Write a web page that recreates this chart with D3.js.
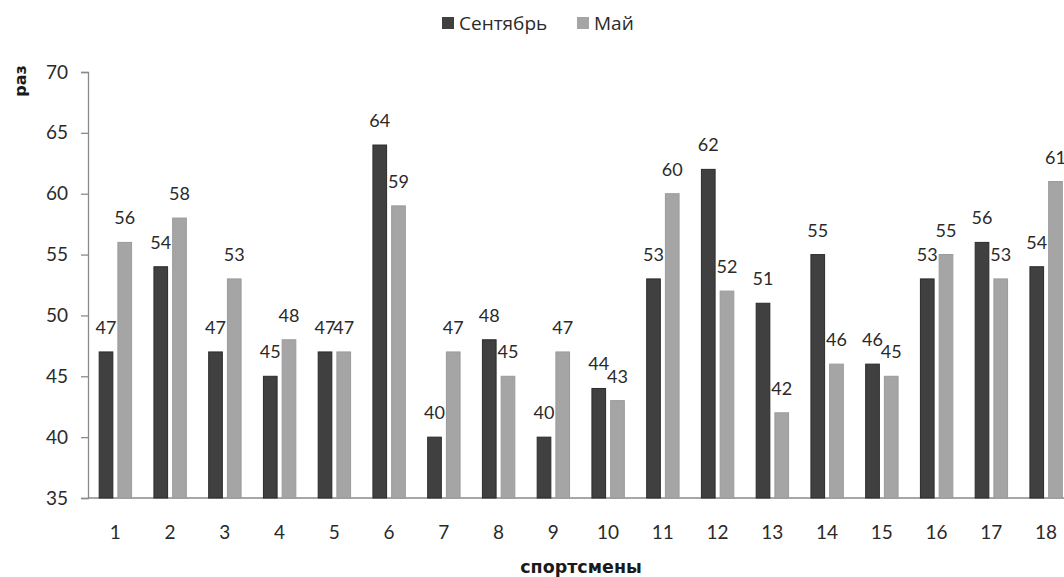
<!DOCTYPE html>
<html>
<head>
<meta charset="utf-8">
<script src="https://cdn.jsdelivr.net/npm/d3@7"></script>
<style>
  html, body { margin: 0; padding: 0; background: #fff; }
  svg { display: block; font-family: Lato, "Open Sans", sans-serif; }
</style>
</head>
<body>
<svg id="chart" width="1064" height="577"></svg>
<script>
// Athletes (спортсмены) and their results in two months
const athletes = ["1","2","3","4","5","6","7","8","9","10","11","12","13","14","15","16","17","18"];
const september = [47, 54, 47, 45, 47, 64, 40, 48, 40, 44, 53, 62, 51, 55, 46, 53, 56, 54];
const may       = [56, 58, 53, 48, 47, 59, 47, 45, 47, 43, 60, 52, 42, 46, 45, 55, 53, 61];
const seriesNames = ["Сентябрь", "Май"];
const yTicks = [35, 40, 45, 50, 55, 60, 65, 70];

const series = [
  { name: seriesNames[0], values: september, fill: "#404040", stroke: "#2b2b2b" },
  { name: seriesNames[1], values: may,       fill: "#a5a5a5", stroke: "#9a9a9a" }
];

const svg = d3.select("#chart");
const plotLeft = 88, plotTop = 72, plotBottom = 498;
const step = 54.75;

const x = d3.scaleBand().domain(athletes).range([plotLeft, plotLeft + step * athletes.length]);
const xSub = d3.scaleBand().domain(seriesNames).range([-16.2, 16.2]).paddingInner(0.27);
const y = d3.scaleLinear().domain([35, 70]).range([plotBottom, plotTop]);

const axisColor = "#8a8a8a";
const textColor = "#2a2a2a";
const titleFont = "'DejaVu Sans', Verdana, sans-serif";

// Baseline along the category axis
svg.append("line")
  .attr("x1", plotLeft).attr("x2", 1064)
  .attr("y1", y(35)).attr("y2", y(35))
  .attr("stroke", axisColor).attr("stroke-width", 1.3);

// Value axis
const yAxis = svg.append("g")
  .attr("transform", `translate(${plotLeft},0)`)
  .call(d3.axisLeft(y).tickValues(yTicks).tickSize(7).tickPadding(13).tickFormat(d3.format("d")));
yAxis.select(".domain").attr("stroke", axisColor).attr("stroke-width", 1.3);
yAxis.selectAll(".tick line").attr("stroke", axisColor).attr("stroke-width", 1.3);
yAxis.selectAll(".tick text")
  .attr("fill", textColor).style("font-size", "19px").style("font-family", "Lato, sans-serif");

// Category labels
svg.append("g").selectAll("text")
  .data(athletes)
  .join("text")
  .attr("x", d => x(d) + x.bandwidth() / 2)
  .attr("y", 531)
  .attr("text-anchor", "middle")
  .attr("dominant-baseline", "central")
  .attr("fill", textColor)
  .style("font-size", "19px")
  .text(d => d);

// Bars and value labels
series.forEach(s => {
  const g = svg.append("g");
  const rows = athletes.map((a, i) => ({ a, v: s.values[i] }));
  g.selectAll("rect")
    .data(rows)
    .join("rect")
    .attr("x", d => x(d.a) + x.bandwidth() / 2 + xSub(s.name))
    .attr("width", xSub.bandwidth())
    .attr("y", d => y(d.v))
    .attr("height", d => y(35) - y(d.v))
    .attr("fill", s.fill)
    .attr("stroke", s.stroke)
    .attr("stroke-width", 1);
  g.selectAll("text")
    .data(rows)
    .join("text")
    .attr("x", d => x(d.a) + x.bandwidth() / 2 + xSub(s.name) + xSub.bandwidth() / 2)
    .attr("y", d => y(d.v) - 18)
    .attr("text-anchor", "middle")
    .attr("fill", textColor)
    .style("font-size", "18px")
    .text(d => d.v);
});

// Axis titles
svg.append("text")
  .attr("transform", "translate(20,81) rotate(-90)")
  .attr("text-anchor", "middle")
  .attr("dominant-baseline", "central")
  .attr("fill", "#1a1a1a")
  .style("font-family", titleFont)
  .style("font-size", "16px").style("font-weight", "bold")
  .text("раз");

svg.append("text")
  .attr("x", 581).attr("y", 567)
  .attr("text-anchor", "middle")
  .attr("dominant-baseline", "central")
  .attr("fill", "#1a1a1a")
  .style("font-family", titleFont)
  .style("font-size", "17.5px").style("font-weight", "bold")
  .text("спортсмены");

// Legend
const legend = svg.append("g");
const legendItems = [
  { name: seriesNames[0], fill: series[0].fill, x: 442 },
  { name: seriesNames[1], fill: series[1].fill, x: 577 }
];
legendItems.forEach(it => {
  legend.append("rect")
    .attr("x", it.x).attr("y", 17).attr("width", 12).attr("height", 12)
    .attr("fill", it.fill);
  legend.append("text")
    .attr("x", it.x + 17).attr("y", 23)
    .attr("dominant-baseline", "central")
    .attr("fill", textColor)
    .style("font-family", "'Open Sans', sans-serif")
    .style("font-size", "19px")
    .text(it.name);
});
</script>
</body>
</html>
